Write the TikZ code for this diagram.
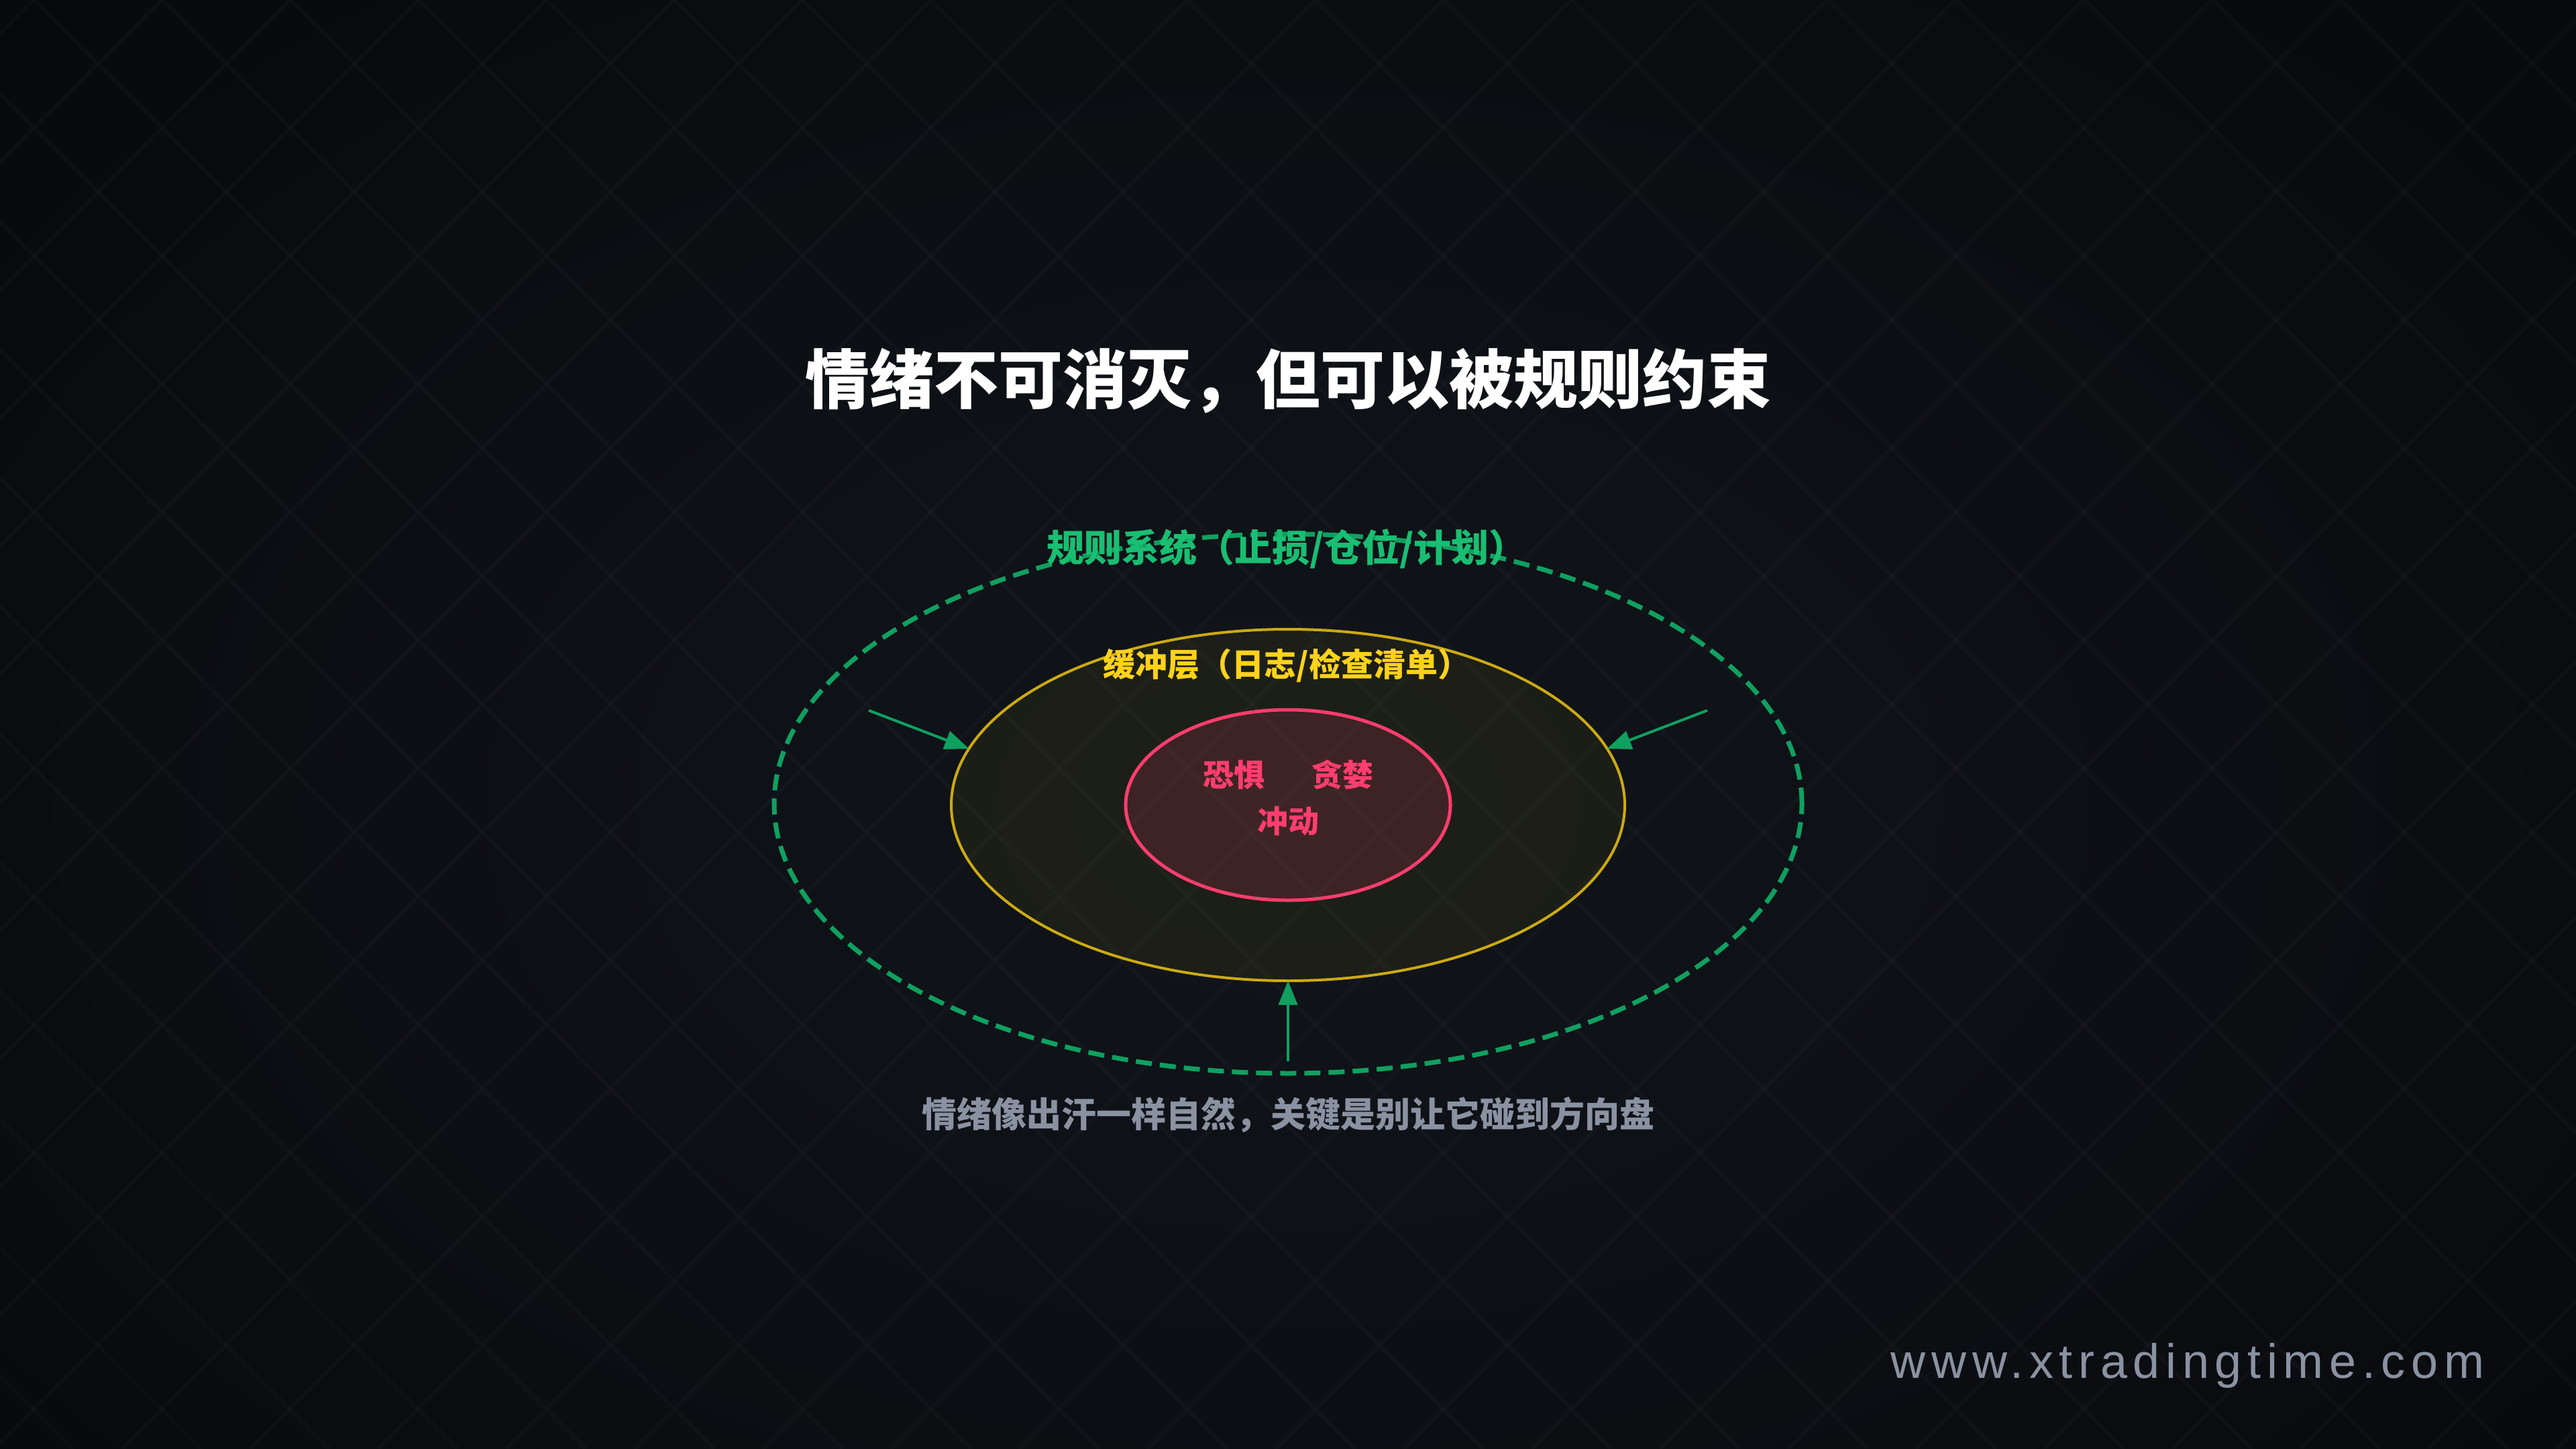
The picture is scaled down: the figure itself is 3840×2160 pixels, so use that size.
\documentclass[tikz,border=0pt]{standalone}
\usepackage{fontspec}
\usetikzlibrary{shapes.geometric,arrows.meta}
\newfontfamily\cjk{Noto Sans CJK SC}
\newfontfamily\wmfont{Liberation Sans}[LetterSpace=12]
\definecolor{bgc}{HTML}{08090C}
\definecolor{bgmid}{HTML}{11151B}
\definecolor{rulegreen}{HTML}{10A060}
\definecolor{labelgreen}{HTML}{19BE72}
\definecolor{bufyellow}{HTML}{CCAA12}
\definecolor{labelyellow}{HTML}{FFD21A}
\definecolor{emopink}{HTML}{FF3D6E}
\definecolor{capgray}{HTML}{8A92A2}
\tikzset{
  gridline/.style={white, opacity=0.018, line width=1.5pt},
  ring/.style={ellipse, inner sep=0pt, outer sep=0pt},
  conn/.style={rulegreen, line width=1pt, -{Triangle[length=9pt,width=7pt]}},
  cjktext/.style={inner sep=0pt, font=\cjk\bfseries},
}
\begin{document}
\begin{tikzpicture}[x=0.25pt,y=-0.25pt]
\useasboundingbox (0,0) rectangle (3840,2160);
\clip (0,0) rectangle (3840,2160);
\fill[bgc] (0,0) rectangle (3840,2160);
\shade[inner color=bgmid, outer color=bgc] (1920,1200) ellipse [x radius=2600, y radius=1700];
% faint diagonal lattice
\foreach \k [evaluate=\k as \c using 51+191*\k] in {-12,...,20}
  \draw[gridline] (\c,0) -- ++(2160,2160);
\foreach \k [evaluate=\k as \d using 241+191*\k] in {-2,...,31}
  \draw[gridline] (\d,0) -- ++(-2160,2160);

% rings
\node[ring, draw=rulegreen, line width=1.75pt, dash pattern=on 6pt off 3pt,
      minimum width=383pt, minimum height=201pt] (rules) at (1920,1198) {};
\node[ring, draw=bufyellow, line width=1pt, fill=yellow, fill opacity=0.05, draw opacity=1,
      minimum width=251pt, minimum height=131pt] (buffer) at (1920,1200) {};
\node[ring, draw=emopink, line width=1.25pt, fill=emopink, fill opacity=0.15, draw opacity=1,
      minimum width=121pt, minimum height=71pt] (core) at (1920,1200) {};

% labels
\node[cjktext, white, font=\cjk\bfseries\fontsize{24pt}{28pt}\selectfont] (title) at (1920,568) {情绪不可消灭，但可以被规则约束};
\node[cjktext, labelgreen, font=\cjk\bfseries\fontsize{14pt}{17pt}\selectfont] (rulelabel) at (1918,818) {规则系统（止损/仓位/计划）};
\node[cjktext, labelyellow, font=\cjk\bfseries\fontsize{12pt}{15pt}\selectfont] (buflabel) at (1918,992) {缓冲层（日志/检查清单）};
\node[cjktext, emopink, font=\cjk\bfseries\fontsize{11.5pt}{14pt}\selectfont] (fear) at (1839,1155) {恐惧};
\node[cjktext, emopink, font=\cjk\bfseries\fontsize{11.5pt}{14pt}\selectfont] (greed) at (2001,1155) {贪婪};
\node[cjktext, emopink, font=\cjk\bfseries\fontsize{11.5pt}{14pt}\selectfont] (impulse) at (1920,1224) {冲动};
\node[cjktext, capgray, font=\cjk\bfseries\fontsize{13pt}{16pt}\selectfont] (caption) at (1920,1662) {情绪像出汗一样自然，关键是别让它碰到方向盘};
\node[inner sep=0pt, anchor=base west, capgray, font=\wmfont\fontsize{18pt}{21pt}\selectfont] (site) at (2818,2054) {www.xtradingtime.com};

% connectors
\coordinate (srcL) at (1295,1059);
\coordinate (srcR) at (2545,1059);
\coordinate (srcB) at (1920,1582);
\draw[conn] (srcL) -- (buffer.170);
\draw[conn] (srcR) -- (buffer.10);
\draw[conn] (srcB) -- (buffer.south);
\end{tikzpicture}
\end{document}
